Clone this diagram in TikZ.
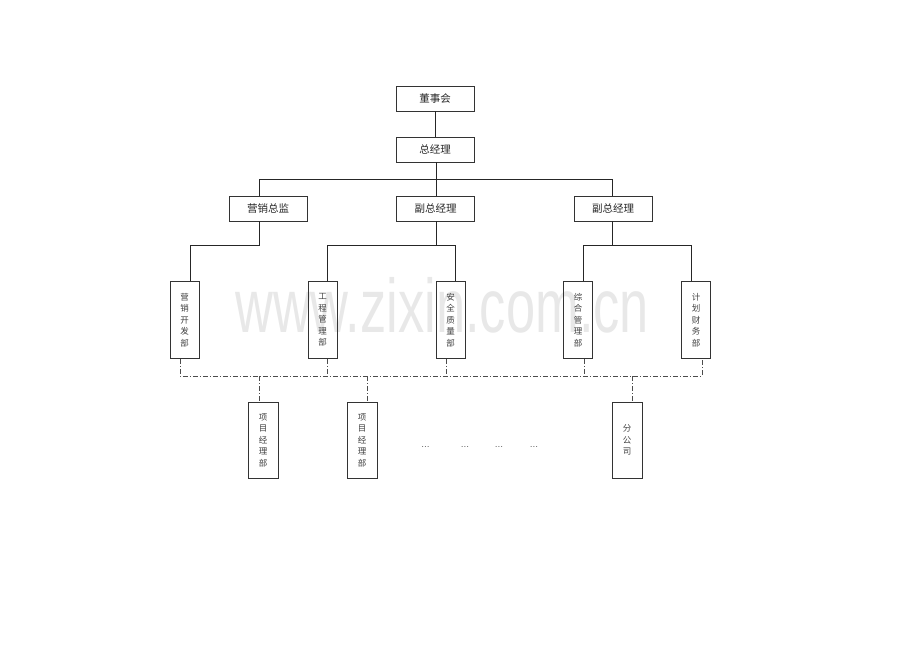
\documentclass[tikz,border=0pt]{standalone}
\usepackage{fontspec}
\newfontfamily\cjk{Noto Sans CJK SC}
\newfontfamily\wmfont{Liberation Sans}
\begin{document}
\begin{tikzpicture}[x=1pt,y=-1pt,
  hbox/.style={draw=black!80, line width=0.8pt, minimum width=78pt, minimum height=25pt, inner sep=0pt, text=black!85, font=\cjk\fontsize{10.5}{13}\selectfont},
  vbox/.style={draw=black!80, line width=0.8pt, minimum width=29pt, minimum height=77pt, inner sep=0pt, align=center, text=black!75, font=\cjk\fontsize{8.5}{11.5}\selectfont},
  bbox/.style={vbox, minimum width=30pt, minimum height=76pt},
  conn/.style={line width=0.7pt, draw=black!85},
  dd/.style={line width=0.7pt, draw=black!70, dash pattern=on 5pt off 2pt on 1pt off 2pt},
  dots/.style={inner sep=0pt, text=black!70, font=\fontsize{10}{11}\selectfont}]
\useasboundingbox (0,0) rectangle (920,651);
% watermark
\node[anchor=base west, inner sep=0pt, text=black!9, font=\wmfont\fontsize{76}{76}\selectfont] (wm) at (235,332) {\scalebox{0.69}[1]{www.zixin.com.cn}};
% top levels
\node[hbox] (dsh) at (435,98.5) {董事会};
\node[hbox] (zjl) at (435,149.5) {总经理};
\node[hbox] (yxzj) at (268,208.5) {营销总监};
\node[hbox] (fz1) at (435.5,208.5) {副总经理};
\node[hbox] (fz2) at (613,208.5) {副总经理};
% departments
\node[vbox] (yxkf) at (184.5,320) {营\\销\\开\\发\\部};
\node[vbox] (gc) at (322.5,320) {工\\程\\管\\理\\部};
\node[vbox] (aq) at (450.5,320) {安\\全\\质\\量\\部};
\node[vbox] (zh) at (578,320) {综\\合\\管\\理\\部};
\node[vbox] (jh) at (696,320) {计\\划\\财\\务\\部};
% bottom
\node[bbox] (xm1) at (263,440) {项\\目\\经\\理\\部};
\node[bbox] (xm2) at (362,440) {项\\目\\经\\理\\部};
\node[bbox] (fgs) at (627,440) {分\\公\\司};
\node[dots] (dt1) at (425.5,447) {...};
\node[dots] (dt2) at (465,447) {...};
\node[dots] (dt3) at (499,447) {...};
\node[dots] (dt4) at (534,447) {...};
% connectors level 1
\draw[conn] (dsh) -- (zjl);
\coordinate (busL) at (259,179);
\coordinate (busM) at (436,179);
\coordinate (busR) at (612,179);
\draw[conn] (zjl.south -| busM) -- (busM);
\draw[conn] (busL) -- (busR);
\draw[conn] (busL) -- (busL |- yxzj.north);
\draw[conn] (busM) -- (busM |- fz1.north);
\draw[conn] (busR) -- (busR |- fz2.north);
% level 2
\coordinate (l0) at (259,245);
\coordinate (l1) at (190,245);
\draw[conn] (l0 |- yxzj.south) -- (l0) -- (l1) -- (l1 |- yxkf.north);
\coordinate (m0) at (436,245);
\coordinate (m1) at (327,245);
\coordinate (m2) at (455,245);
\draw[conn] (m0 |- fz1.south) -- (m0);
\draw[conn] (m1 |- gc.north) -- (m1) -- (m2) -- (m2 |- aq.north);
\coordinate (r0) at (612,245);
\coordinate (r1) at (583,245);
\coordinate (r2) at (691,245);
\draw[conn] (r0 |- fz2.south) -- (r0);
\draw[conn] (r1 |- zh.north) -- (r1) -- (r2) -- (r2 |- jh.north);
% dash-dot bus
\coordinate (d1) at (180,376);
\coordinate (d2) at (327,376);
\coordinate (d3) at (446,376);
\coordinate (d4) at (584,376);
\coordinate (d5) at (702,376);
\draw[dd] (d1 |- yxkf.south) -- (d1) -- (d5) -- (d5 |- jh.south);
\draw[dd] (d2 |- gc.south) -- (d2);
\draw[dd] (d3 |- aq.south) -- (d3);
\draw[dd] (d4 |- zh.south) -- (d4);
\coordinate (e1) at (259,376);
\coordinate (e2) at (367,376);
\coordinate (e3) at (632,376);
\draw[dd] (e1) -- (e1 |- xm1.north);
\draw[dd] (e2) -- (e2 |- xm2.north);
\draw[dd] (e3) -- (e3 |- fgs.north);
\end{tikzpicture}
\end{document}
